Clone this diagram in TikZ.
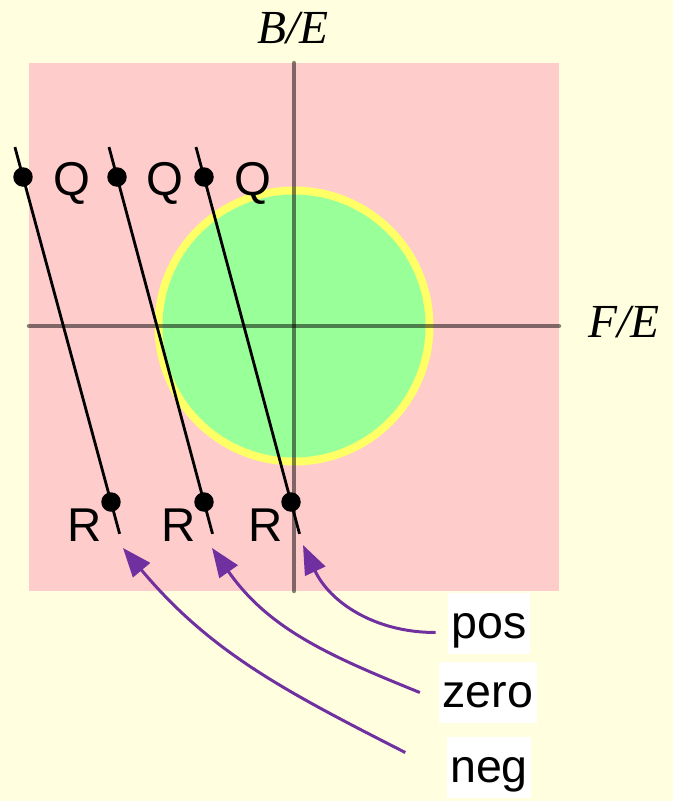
\documentclass[tikz,border=0pt]{standalone}
\usepackage{fontspec}
\setmainfont{Liberation Serif}
\setsansfont{Liberation Sans}
\usetikzlibrary{arrows.meta}

\definecolor{paper}{HTML}{FFFFE0}
\definecolor{field}{HTML}{FFCCCC}
\definecolor{disc}{HTML}{99FF99}
\definecolor{rim}{HTML}{FFFF66}
\definecolor{pointer}{HTML}{7030A0}

\begin{document}
\begin{tikzpicture}[x=0.02cm, y=0.02cm,
  axisline/.style={draw=black, draw opacity=0.5, line width=2.55pt, line cap=round},
  ray/.style={draw=black, line width=1.6pt},
  dot/.style={circle, fill=black, inner sep=0pt, minimum size=0.39cm},
  ptlabel/.style={font=\sffamily\fontsize{27}{30}\selectfont, inner sep=0pt, anchor=base},
  axislabel/.style={font=\itshape\fontsize{27}{30}\selectfont, inner sep=0pt, anchor=base},
  tagbox/.style={fill=white, font=\sffamily\fontsize{26.5}{30}\selectfont, text height=0.8cm, text depth=0.22cm, inner xsep=0.07cm, inner ysep=0.1cm, anchor=base},
  arrow/.style={-{Triangle[length=0.58cm, width=0.44cm]}, draw=pointer, line width=1.7pt}
]

% page and field
\fill[paper] (0,0) rectangle (673,-801);
\useasboundingbox (0,0) rectangle (673,-801);
\fill[field] (29,-63) rectangle (559,-591);

\fill[rim] (294,-326) circle (2.79cm);
\fill[disc] (294,-326) circle (2.63cm);

\draw[axisline] (294,-63) -- (294,-591);
\draw[axisline] (29,-326) -- (559,-326);

\node[axislabel] (be) at (293,-43) {B/E};
\node[axislabel] (fe) at (624,-337) {F/E};

% the three lines Q--R
\node[dot] (q1) at (23,-177) {};
\node[dot] (q2) at (117,-177) {};
\node[dot] (q3) at (204,-177) {};
\node[dot] (r1) at (111,-502) {};
\node[dot] (r2) at (204,-502) {};
\node[dot] (r3) at (291,-502) {};

\draw[ray, shorten <=-0.62cm, shorten >=-0.66cm] (q1.center) -- (r1.center);
\draw[ray, shorten <=-0.62cm, shorten >=-0.66cm] (q2.center) -- (r2.center);
\draw[ray, shorten <=-0.62cm, shorten >=-0.66cm] (q3.center) -- (r3.center);

\node[ptlabel] (lq1) at (72,-195) {Q};
\node[ptlabel] (lq2) at (165,-195) {Q};
\node[ptlabel] (lq3) at (253,-195) {Q};
\node[ptlabel] (lr1) at (85,-541) {R};
\node[ptlabel] (lr2) at (179,-541) {R};
\node[ptlabel] (lr3) at (266,-541) {R};

% labels and pointers
\node[tagbox] (pos) at (489,-638) {pos};
\node[tagbox] (zero) at (488,-707) {zero};
\node[tagbox] (neg) at (489,-782) {neg};

\coordinate (tip1) at (123,-548);
\coordinate (tip2) at (212,-548);
\coordinate (tip3) at (303,-545);

\draw[arrow] ([xshift=-0.24cm, yshift=-0.18cm]pos.west) to[out=180, in=-65] (tip3);
\draw[arrow] ([xshift=-0.38cm]zero.west) to[out=158, in=-55] (tip2);
\draw[arrow] ([xshift=-0.82cm, yshift=0.3cm]neg.west) to[out=153, in=-50] (tip1);

\end{tikzpicture}
\end{document}
